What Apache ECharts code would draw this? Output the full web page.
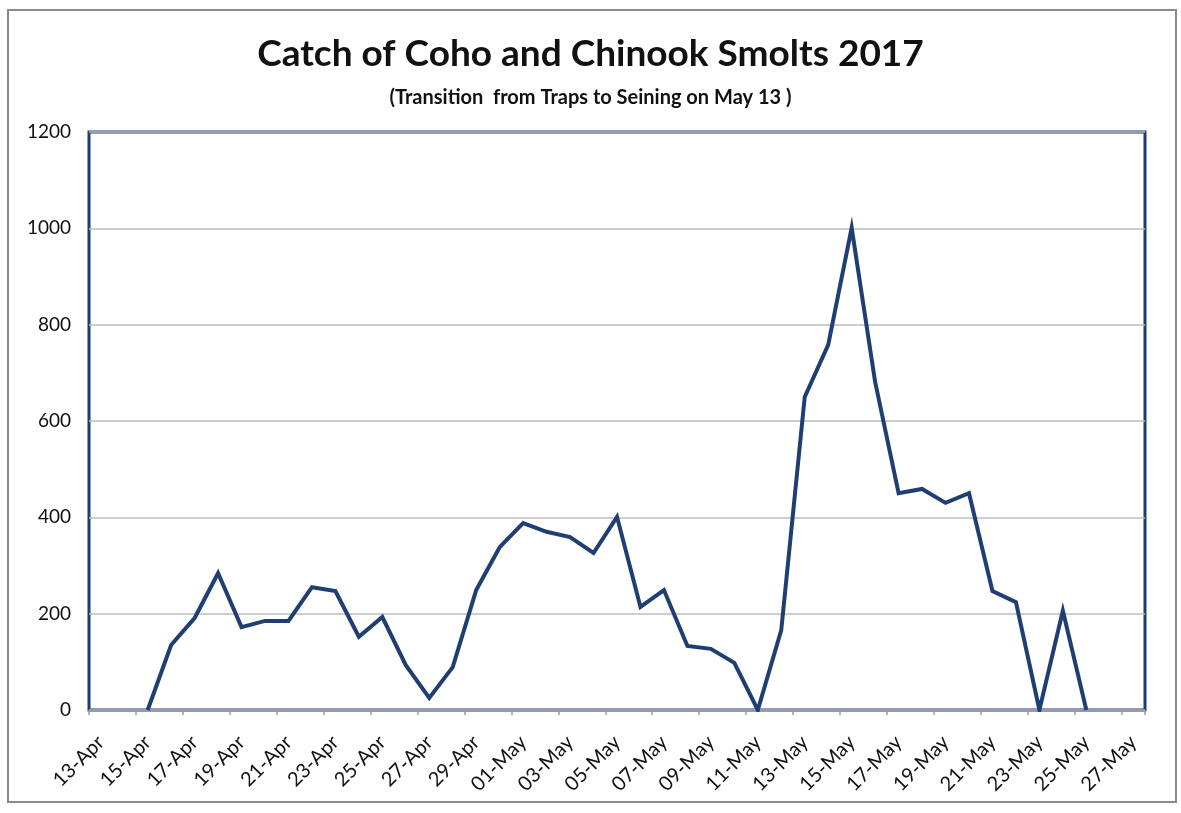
<!DOCTYPE html>
<html>
<head>
<meta charset="utf-8">
<script src="https://cdn.jsdelivr.net/npm/echarts@6/dist/echarts.min.js"></script>
<style>
  html, body { margin: 0; padding: 0; background: #fff; }
  #main { width: 1181px; height: 813px; }
</style>
</head>
<body>
<div id="main"></div>
<script>
// daily catch, 13-Apr .. 27-May 2017
var days = ['13-Apr', '14-Apr', '15-Apr', '16-Apr', '17-Apr', '18-Apr', '19-Apr', '20-Apr', '21-Apr', '22-Apr',
    '23-Apr', '24-Apr', '25-Apr', '26-Apr', '27-Apr', '28-Apr', '29-Apr', '30-Apr', '01-May', '02-May',
    '03-May', '04-May', '05-May', '06-May', '07-May', '08-May', '09-May', '10-May', '11-May', '12-May',
    '13-May', '14-May', '15-May', '16-May', '17-May', '18-May', '19-May', '20-May', '21-May', '22-May',
    '23-May', '24-May', '25-May', '26-May', '27-May'];
var catchCount = [null, null, 0, 135, 191, 284, 172, 185, 185, 255,
    247, 152, 193, 93, 25, 89, 249, 338, 388, 370,
    359, 326, 401, 214, 249, 133, 127, 98, 0, 166,
    650, 758, 1001, 681, 450, 459, 430, 450, 247, 224,
    0, 206, 0, null, null];
var yTicks = [0, 200, 400, 600, 800, 1000, 1200];

var myChart = echarts.init(document.getElementById('main'));
window.onresize = myChart.resize;

var navy = '#1f3f72';
var fontFam = 'Lato, "Open Sans", sans-serif';

option = {
    animation: false,
    backgroundColor: '#fff',
    title: [{
        text: 'Catch of Coho and Chinook Smolts 2017',
        left: 'center',
        top: 31,
        textStyle: {
            color: '#111',
            fontSize: 37,
            fontWeight: 'bold',
            fontFamily: fontFam
        }
    }, {
        text: '(Transition  from Traps to Seining on May 13 )',
        left: 'center',
        top: 83,
        textStyle: {
            color: '#111',
            fontSize: 20,
            fontWeight: 'bold',
            fontFamily: fontFam
        }
    }],
    graphic: [{
        type: 'rect',
        shape: { x: 8, y: 10, width: 1168, height: 792 },
        style: { fill: null, stroke: '#8a8a8a', lineWidth: 2 },
        silent: true
    }],
    grid: {
        left: 89,
        right: 36,
        top: 132,
        bottom: 103,
        show: true,
        borderColor: navy,
        borderWidth: 3,
        containLabel: false
    },
    xAxis: {
        type: 'category',
        data: days,
        boundaryGap: true,
        axisLine: { show: false },
        axisTick: {
            show: true,
            interval: 1,
            length: 5,
            lineStyle: { color: '#9a9a9a', width: 1.5 }
        },
        axisLabel: {
            interval: 1,
            rotate: 45,
            margin: 29,
            color: '#111',
            fontSize: 20,
            fontFamily: fontFam
        },
        splitLine: { show: false }
    },
    yAxis: {
        type: 'value',
        min: yTicks[0],
        max: yTicks[yTicks.length - 1],
        interval: 200,
        axisLine: { show: false },
        axisTick: { show: false },
        axisLabel: {
            margin: 18,
            color: '#111',
            fontSize: 19,
            fontFamily: fontFam,
            formatter: function (v) { return String(v); }
        },
        splitLine: {
            show: true,
            lineStyle: { color: '#bdbdbd', width: 1.5 }
        }
    },
    series: [{
        name: 'Catch',
        type: 'line',
        data: catchCount,
        showSymbol: false,
        symbol: 'none',
        connectNulls: false,
        lineStyle: { color: navy, width: 4, join: 'miter' },
        itemStyle: { color: navy }
    }]
};

myChart.setOption(option);
</script>
</body>
</html>
